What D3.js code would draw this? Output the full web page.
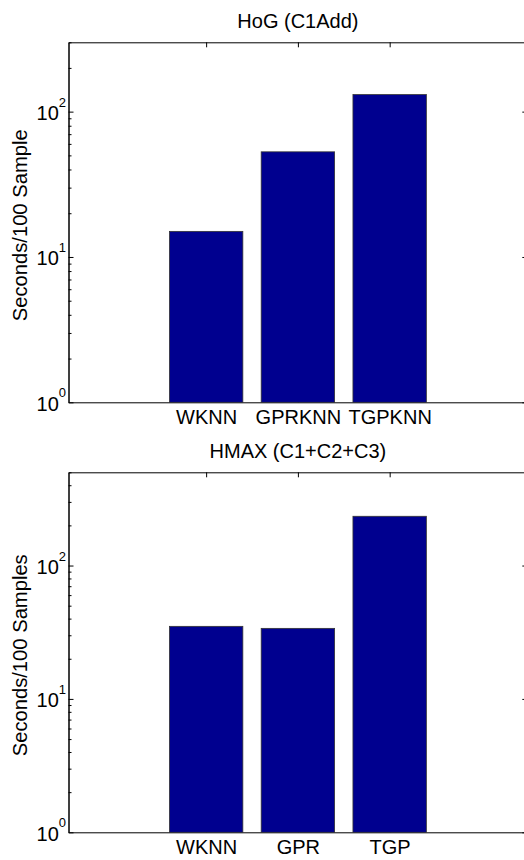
<!DOCTYPE html>
<html>
<head>
<meta charset="utf-8">
<script src="https://cdn.jsdelivr.net/npm/d3@7"></script>
<style>
  html, body { margin: 0; padding: 0; background: #fff; }
  svg { display: block; font-family: 'Liberation Sans', Arial, Helvetica, sans-serif; }
</style>
</head>
<body>
<svg id="chart" width="524" height="860"></svg>
<script>
// HoG (C1Add) timings
const hogMethods = ['WKNN', 'GPRKNN', 'TGPKNN']
const hogTimes = [15.0, 52.9, 131]

// HMAX (C1+C2+C3) timings
const hmaxMethods = ['WKNN', 'GPR', 'TGP']
const hmaxTimes = [35, 33.8, 234]

const majorTicks = [1, 10, 100]
const hogYMax = 300
const hmaxYMax = 500

const svg = d3.select('#chart')
const barColor = '#00008f'

/**
 * Builds the minor tick values (2..9 per decade) below a maximum.
 *
 * @param {number} max The top of the y domain
 * @returns {number[]} The minor tick values
 */
function minorTicks (max) {
  const out = []
  for (let p = 1; p <= max; p *= 10) {
    for (let k = 2; k <= 9; k++) {
      if (k * p <= max) out.push(k * p)
    }
  }
  return out
}

/**
 * Draws one MATLAB-style bar panel with a log y axis.
 */
function drawPanel ({ top, bottom, title, yLabel, methods, values, yMax }) {
  const left = 68.5
  const right = 527.3
  const g = svg.append('g')

  const x = d3.scaleLinear().domain([-0.5, 4.5]).range([left, right])
  const y = d3.scaleLog().domain([1, yMax]).range([bottom, top])
  const pos = methods.map((d, i) => i + 1)

  // frame + ticks (drawn first, bars cover the bottom ticks)
  const leftAxis = d3.axisLeft(y).tickValues(majorTicks).tickSizeInner(-5).tickSizeOuter(0).tickFormat(() => '')
  const leftMinor = d3.axisLeft(y).tickValues(minorTicks(yMax)).tickSizeInner(-3).tickSizeOuter(0).tickFormat(() => '')
  const rightAxis = d3.axisRight(y).tickValues(majorTicks).tickSizeInner(-5).tickSizeOuter(0).tickFormat(() => '')
  const rightMinor = d3.axisRight(y).tickValues(minorTicks(yMax)).tickSizeInner(-3).tickSizeOuter(0).tickFormat(() => '')
  const topAxis = d3.axisTop(x).tickValues(pos).tickSizeInner(-5).tickSizeOuter(0).tickFormat(() => '')
  const bottomAxis = d3.axisBottom(x).tickValues(pos).tickSizeInner(-5).tickSizeOuter(0).tickFormat((d) => methods[d - 1])

  g.append('g').attr('transform', `translate(${left},0)`).call(leftAxis)
  g.append('g').attr('transform', `translate(${left},0)`).call(leftMinor)
  g.append('g').attr('transform', `translate(${right},0)`).call(rightAxis)
  g.append('g').attr('transform', `translate(${right},0)`).call(rightMinor)
  g.append('g').attr('transform', `translate(0,${top})`).call(topAxis)
  const xg = g.append('g').attr('transform', `translate(0,${bottom})`).call(bottomAxis)

  g.selectAll('.domain, .tick line').attr('stroke', '#000').attr('stroke-width', 1)

  xg.selectAll('.tick text')
    .attr('y', 22)
    .attr('dy', null)
    .style('font-size', '20px')
    .attr('fill', '#000')

  // bars
  g.selectAll('rect.bar')
    .data(values)
    .join('rect')
    .attr('class', 'bar')
    .attr('x', (d, i) => x(pos[i] - 0.4))
    .attr('width', x(0.8) - x(0))
    .attr('y', (d) => y(d))
    .attr('height', (d) => bottom - y(d))
    .attr('fill', barColor)
    .attr('stroke', '#333')
    .attr('stroke-width', 0.8)

  // y tick labels as 10^k
  majorTicks.forEach((v) => {
    const t = g.append('text')
      .attr('x', 66)
      .attr('y', y(v) + 8.4)
      .attr('text-anchor', 'end')
      .attr('fill', '#000')
      .style('font-size', '20px')
    t.append('tspan').text('10')
    t.append('tspan')
      .attr('dy', -13.4)
      .style('font-size', '13px')
      .text(String(Math.round(Math.log10(v))))
  })

  // title
  g.append('text')
    .attr('x', (left + right) / 2)
    .attr('y', top - 14.5)
    .attr('text-anchor', 'middle')
    .style('font-size', '20px')
    .attr('fill', '#000')
    .text(title)

  // y label
  g.append('text')
    .attr('transform', `translate(27,${(top + bottom) / 2 + 3}) rotate(-90)`)
    .attr('text-anchor', 'middle')
    .style('font-size', '20.2px')
    .attr('fill', '#000')
    .text(yLabel)
}

drawPanel({
  top: 42.3,
  bottom: 402.3,
  title: 'HoG (C1Add)',
  yLabel: 'Seconds/100 Sample',
  methods: hogMethods,
  values: hogTimes,
  yMax: hogYMax
})

drawPanel({
  top: 472.3,
  bottom: 832.3,
  title: 'HMAX (C1+C2+C3)',
  yLabel: 'Seconds/100 Samples',
  methods: hmaxMethods,
  values: hmaxTimes,
  yMax: hmaxYMax
})
</script>
</body>
</html>
